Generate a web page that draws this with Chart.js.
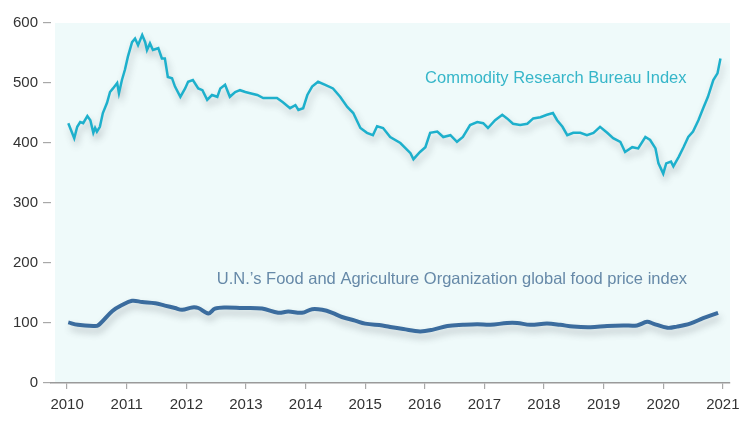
<!DOCTYPE html>
<html>
<head>
<meta charset="utf-8">
<script src="https://cdn.jsdelivr.net/npm/chart.js@4/dist/chart.umd.min.js"></script>
<style>
  html, body { margin: 0; padding: 0; background: #fff; }
  #wrap { width: 750px; height: 422px; position: relative; }
</style>
</head>
<body>
<div id="wrap"><canvas id="priceChart"></canvas></div>
<script>
// Commodity Research Bureau index
const crbYears = [
  2010.02, 2010.12, 2010.17, 2010.22, 2010.27, 2010.34, 2010.39, 2010.44, 2010.47, 2010.50,
  2010.55, 2010.60, 2010.67, 2010.72, 2010.77, 2010.84, 2010.87, 2010.92, 2010.97, 2011.02,
  2011.09, 2011.14, 2011.19, 2011.26, 2011.31, 2011.34, 2011.39, 2011.44, 2011.53, 2011.59,
  2011.64, 2011.69, 2011.76, 2011.81, 2011.90, 2011.98, 2012.03, 2012.11, 2012.20, 2012.27,
  2012.35, 2012.43, 2012.52, 2012.57, 2012.65, 2012.73, 2012.82, 2012.90, 2012.99, 2013.07,
  2013.19, 2013.29, 2013.41, 2013.52, 2013.62, 2013.74, 2013.83, 2013.88, 2013.96, 2014.03,
  2014.11, 2014.21, 2014.33, 2014.46, 2014.58, 2014.70, 2014.80, 2014.92, 2015.03, 2015.13,
  2015.20, 2015.30, 2015.42, 2015.59, 2015.76, 2015.81, 2015.92, 2016.01, 2016.09, 2016.21,
  2016.31, 2016.43, 2016.54, 2016.64, 2016.76, 2016.88, 2016.98, 2017.06, 2017.18, 2017.30,
  2017.38, 2017.48, 2017.60, 2017.72, 2017.82, 2017.94, 2018.05, 2018.15, 2018.22, 2018.31,
  2018.39, 2018.49, 2018.61, 2018.72, 2018.83, 2018.94, 2019.06, 2019.16, 2019.28, 2019.36,
  2019.48, 2019.58, 2019.70, 2019.78, 2019.87, 2019.92, 2020.00, 2020.05, 2020.13, 2020.17,
  2020.26, 2020.34, 2020.42, 2020.50, 2020.59, 2020.67, 2020.75, 2020.84, 2020.91, 2020.96
];
const crbValues = [
  433, 408, 427, 435, 433, 445, 438, 417, 425, 419,
  427, 450, 467, 485, 491, 500, 483, 505, 522, 544,
  568, 574, 563, 580, 568, 555, 566, 555, 558, 541,
  541, 510, 508, 494, 477, 491, 502, 505, 491, 488,
  472, 480, 477, 491, 497, 477, 485, 488, 485, 483,
  480, 475, 475, 475, 468, 458, 463, 455, 458, 480,
  494, 502, 497, 491, 477, 460, 450, 425, 417, 413,
  428, 425, 410, 400, 383, 373, 385, 393, 417, 419,
  410, 413, 402, 410, 430, 435, 433, 425, 438, 447,
  441, 432, 430, 432, 441, 443, 447, 450, 438, 427,
  413, 417, 417, 413, 417, 427, 417, 408, 402, 385,
  393, 391, 410, 405, 391, 366, 349, 366, 369, 361,
  377, 393, 410, 419, 438, 458, 477, 505, 516, 541
];

// U.N. FAO global food price index
const faoYears = [
  2010.02, 2010.18, 2010.44, 2010.52, 2010.76, 2010.92, 2011.09, 2011.26, 2011.48, 2011.64,
  2011.81, 2011.93, 2012.10, 2012.20, 2012.37, 2012.48, 2012.65, 2012.94, 2013.27, 2013.54,
  2013.71, 2013.94, 2014.11, 2014.28, 2014.45, 2014.61, 2014.83, 2015.00, 2015.29, 2015.45,
  2015.64, 2015.92, 2016.14, 2016.38, 2016.64, 2016.88, 2017.10, 2017.38, 2017.55, 2017.77,
  2018.05, 2018.27, 2018.49, 2018.78, 2019.06, 2019.33, 2019.56, 2019.73, 2019.83, 2020.07,
  2020.23, 2020.45, 2020.67, 2020.92
];
const faoValues = [
  101, 97, 95, 96, 120, 130, 137, 135, 133, 129,
  125, 122, 126, 125, 116, 124, 126, 125, 124, 117,
  119, 117, 123, 122, 117, 110, 104, 99, 96, 93,
  90, 86, 89, 95, 97, 98, 97, 100, 100, 97,
  99, 97, 94, 93, 95, 96, 96, 102, 99, 92,
  94, 99, 108, 117
];

const yearTicks = [2010, 2011, 2012, 2013, 2014, 2015, 2016, 2017, 2018, 2019, 2020, 2021];
const valueTicks = [0, 100, 200, 300, 400, 500, 600];

const seriesLabels = [
  { text: "Commodity Research Bureau Index", year: 2020.39, value: 507, color: "#36b6c9" },
  { text: "U.N.\u2019s Food and Agriculture Organization global food price index", year: 2020.4, value: 172, color: "#6689a8" }
];

const toPoints = (xs, ys) => xs.map((x, i) => ({ x: x, y: ys[i] }));

// light plot panel behind the lines
const panelPlugin = {
  id: "panel",
  beforeDraw(chart) {
    const { ctx, chartArea } = chart;
    ctx.save();
    ctx.fillStyle = "#effafa";
    ctx.fillRect(chartArea.left + 4, chartArea.top, chartArea.right - chartArea.left - 4, chartArea.bottom - chartArea.top);
    ctx.restore();
  }
};

// soft drop shadow under each line
const shadowPlugin = {
  id: "lineShadow",
  beforeDatasetDraw(chart) {
    const ctx = chart.ctx;
    ctx.save();
    ctx.shadowColor = "rgba(60, 70, 80, 0.3)";
    ctx.shadowBlur = 7;
    ctx.shadowOffsetX = 2;
    ctx.shadowOffsetY = 5;
  },
  afterDatasetDraw(chart) {
    chart.ctx.restore();
  }
};

// series names written on the chart
const seriesLabelPlugin = {
  id: "seriesLabels",
  afterDatasetsDraw(chart) {
    const { ctx, scales } = chart;
    ctx.save();
    ctx.font = "16.5px 'Liberation Sans', Arial, sans-serif";
    ctx.textAlign = "right";
    ctx.textBaseline = "middle";
    seriesLabels.forEach((l) => {
      ctx.fillStyle = l.color;
      ctx.fillText(l.text, scales.x.getPixelForValue(l.year), scales.y.getPixelForValue(l.value));
    });
    ctx.restore();
  }
};

const ctx = document.getElementById("priceChart").getContext("2d");
new Chart(ctx, {
  type: "line",
  data: {
    datasets: [
      {
        label: "Commodity Research Bureau Index",
        data: toPoints(crbYears, crbValues),
        borderColor: "#1eb0cc",
        borderWidth: 2.5,
        pointRadius: 0,
        tension: 0,
        fill: false
      },
      {
        label: "U.N.'s Food and Agriculture Organization global food price index",
        data: toPoints(faoYears, faoValues),
        borderColor: "#3b6c9e",
        borderWidth: 4,
        pointRadius: 0,
        tension: 0.35,
        fill: false
      }
    ]
  },
  options: {
    responsive: true,
    maintainAspectRatio: false,
    animation: false,
    layout: { padding: { top: 23, right: 20, left: 0, bottom: 0 } },
    plugins: { legend: { display: false }, tooltip: { enabled: false } },
    scales: {
      x: {
        type: "linear",
        min: 2009.73,
        max: 2021.12,
        afterBuildTicks: (scale) => { scale.ticks = yearTicks.map((v) => ({ value: v })); },
        afterFit: (scale) => { scale.height = 39; },
        border: { display: true, color: "#9a9a9a", width: 1.5 },
        grid: { drawOnChartArea: false, drawTicks: true, tickLength: 6, color: "#a8a8a8", lineWidth: 1.2 },
        ticks: {
          color: "#333",
          padding: 7,
          maxRotation: 0,
          font: { family: "'Liberation Sans', Arial, sans-serif", size: 15 },
          callback: (v) => String(v)
        }
      },
      y: {
        min: 0,
        max: 600,
        afterBuildTicks: (scale) => { scale.ticks = valueTicks.map((v) => ({ value: v })); },
        afterFit: (scale) => { scale.width = 51; },
        border: { display: false },
        grid: { drawOnChartArea: false, drawTicks: true, tickLength: 8, color: "#a8a8a8", lineWidth: 1.2 },
        ticks: {
          color: "#333",
          padding: 5,
          font: { family: "'Liberation Sans', Arial, sans-serif", size: 15 }
        }
      }
    }
  },
  plugins: [panelPlugin, shadowPlugin, seriesLabelPlugin]
});
</script>
</body>
</html>
